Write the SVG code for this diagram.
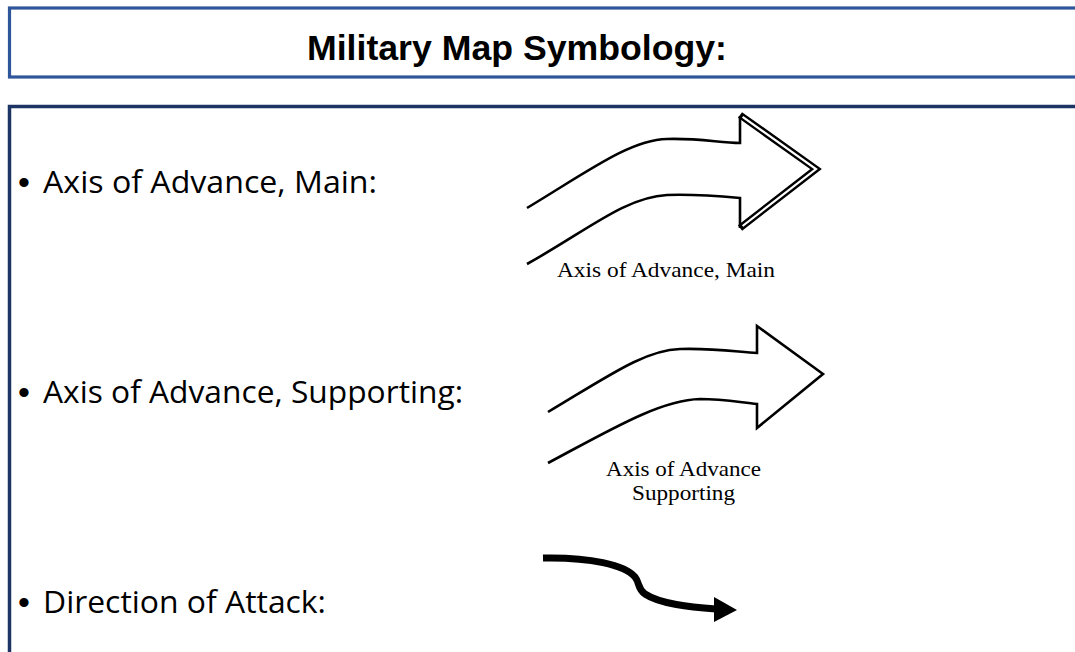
<svg xmlns="http://www.w3.org/2000/svg" width="1075" height="652" viewBox="0 0 1075 652">
  <style>
    .bullet { font-family: "Open Sans", "Liberation Sans", sans-serif; font-size: 31px; fill: #000; }
    .dot { font-family: "Liberation Sans", Arial, sans-serif; font-size: 34px; fill: #000; }
    .label { font-family: "Liberation Serif", "Times New Roman", serif; font-size: 21px; fill: #000; }
    .title { font-family: "Liberation Sans", Arial, sans-serif; font-size: 35px; font-weight: bold; fill: #000; }
    .outline { fill: none; stroke: #000; stroke-width: 2.6; stroke-linejoin: miter; }
  </style>
  <rect x="0" y="0" width="1075" height="652" fill="#fff"/>

  <g id="title-box">
    <rect x="9.5" y="8" width="1100" height="69" fill="#fff" stroke="#2F559A" stroke-width="3.2"/>
    <text class="title" x="307" y="59.5" textLength="420" lengthAdjust="spacingAndGlyphs">Military Map Symbology:</text>
  </g>

  <g id="content-box">
    <rect x="9.5" y="106.5" width="1100" height="600" fill="#fff" stroke="#1C3564" stroke-width="3.5"/>
  </g>

  <g id="item-main">
    <text class="dot" x="18" y="194">•</text>
    <text class="bullet" x="43" y="193" textLength="334" lengthAdjust="spacingAndGlyphs">Axis of Advance, Main:</text>
  </g>
  <g id="item-supporting">
    <text class="dot" x="18" y="404">•</text>
    <text class="bullet" x="43" y="403" textLength="420" lengthAdjust="spacingAndGlyphs">Axis of Advance, Supporting:</text>
  </g>
  <g id="item-attack">
    <text class="dot" x="18" y="614">•</text>
    <text class="bullet" x="43" y="613" textLength="283" lengthAdjust="spacingAndGlyphs">Direction of Attack:</text>
  </g>

  <g id="connectors">
    <g id="arrow-main">
      <path class="outline" d="M527,208 C590,170 630,140 667,139 C700,138 720,143 740,143 L740,116"/>
      <path class="outline" d="M740,228 L740,198 C718,196 695,194 667,195 C625,197 585,232 527,264"/>
      <polyline points="740,115 816,169 740,228" fill="none" stroke="#000" stroke-width="7" stroke-linejoin="miter"/>
      <polyline points="742.6,116.9 816,169 742.6,226" fill="none" stroke="#fff" stroke-width="2.2" stroke-linejoin="miter"/>
      <text class="label" x="557" y="277" textLength="218" lengthAdjust="spacingAndGlyphs">Axis of Advance, Main</text>
    </g>
    <g id="arrow-supporting">
      <path class="outline" d="M548,412 C610,375 645,350 680,349 C715,348 738,352 757,353 L757,326 L823,374 L757,428 L757,404 C738,402 722,399 700,399 C660,400 610,430 548,463"/>
      <text class="label" x="606" y="476" textLength="155" lengthAdjust="spacingAndGlyphs">Axis of Advance</text>
      <text class="label" x="632" y="500" textLength="103" lengthAdjust="spacingAndGlyphs">Supporting</text>
    </g>
    <g id="arrow-attack">
      <path d="M543,558 C590,557 625,565 635,577 C640,583 637,588 645,594 C660,604 690,607 716,609" fill="none" stroke="#000" stroke-width="7"/>
      <polygon points="714,597 737,610 714,622" fill="#000"/>
    </g>
  </g>
</svg>
